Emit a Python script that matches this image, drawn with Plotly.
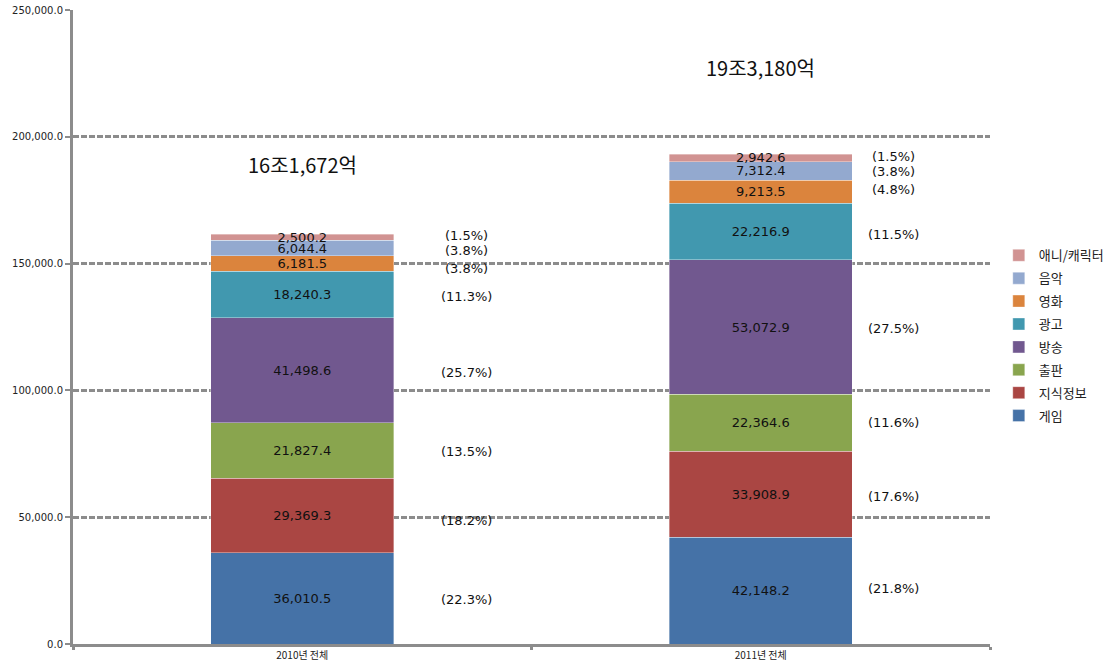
import plotly.graph_objects as go

categories = ["2010년 전체", "2011년 전체"]
series_names = ["게임", "지식정보", "출판", "방송", "광고", "영화", "음악", "애니/캐릭터"]
series_values = {
    "게임": [36010.5, 42148.2],
    "지식정보": [29369.3, 33908.9],
    "출판": [21827.4, 22364.6],
    "방송": [41498.6, 53072.9],
    "광고": [18240.3, 22216.9],
    "영화": [6181.5, 9213.5],
    "음악": [6044.4, 7312.4],
    "애니/캐릭터": [2500.2, 2942.6],
}
series_pct = {
    "게임": ["(22.3%)", "(21.8%)"],
    "지식정보": ["(18.2%)", "(17.6%)"],
    "출판": ["(13.5%)", "(11.6%)"],
    "방송": ["(25.7%)", "(27.5%)"],
    "광고": ["(11.3%)", "(11.5%)"],
    "영화": ["(3.8%)", "(4.8%)"],
    "음악": ["(3.8%)", "(3.8%)"],
    "애니/캐릭터": ["(1.5%)", "(1.5%)"],
}
total_labels = ["16조1,672억", "19조3,180억"]

colors = {
    "게임": "#4572A7",
    "지식정보": "#AA4643",
    "출판": "#89A54E",
    "방송": "#71588F",
    "광고": "#4198AF",
    "영화": "#DB843D",
    "음악": "#93A9CF",
    "애니/캐릭터": "#D19392",
}

# small label nudges (pixels) for the percentage labels, per category
pct_yshift = {
    "게임": [-1, 2],
    "지식정보": [-5, -2],
    "출판": [-1, 0],
    "방송": [-2, -1],
    "광고": [-2, -3],
    "영화": [-5, 2],
    "음악": [-2, -1],
    "애니/캐릭터": [2, 1],
}
pct_xshift = [164, 133]
total_yshift = [70, 87]

FONT = "DejaVu Sans, Noto Sans CJK KR"
KFONT = "Noto Sans CJK KR, DejaVu Sans"

fig = go.Figure()
n = len(series_names)
for i, name in enumerate(series_names):
    vals = series_values[name]
    fig.add_trace(go.Bar(
        name=name, x=categories, y=vals, legendgroup=name,
        legendrank=100 * (n - i),
        marker=dict(color=colors[name], line=dict(color="rgba(255,255,255,0.6)", width=0.6)),
        text=[f"{v:,.1f}" for v in vals],
        textposition="inside", insidetextanchor="middle",
        textfont=dict(family=FONT, size=13, color="#111111"),
        constraintext="none",
        width=0.4,
        hoverinfo="skip",
    ))

for ci, cat in enumerate(categories):
    base = 0.0
    for name in series_names:
        v = series_values[name][ci]
        mid = base + v / 2
        base += v
        fig.add_annotation(
            x=cat, y=mid, text=series_pct[name][ci], showarrow=False,
            xshift=pct_xshift[ci], yshift=pct_yshift[name][ci],
            font=dict(family=FONT, size=13, color="#111111"),
        )
    fig.add_annotation(
        x=cat, y=base, text=total_labels[ci], showarrow=False,
        yshift=total_yshift[ci],
        font=dict(family=KFONT, size=20, color="#111111"),
    )

fig.update_layout(
    barmode="stack",
    width=1111, height=665,
    margin=dict(l=73, r=121, t=10, b=21, autoexpand=False),
    paper_bgcolor="white", plot_bgcolor="white",
    showlegend=True,
    legend=dict(
        xref="container", yref="container",
        x=0.899, y=0.495, xanchor="left", yanchor="middle",
        traceorder="grouped",
        font=dict(family=KFONT, size=13, color="#222222"),
        itemwidth=30, tracegroupgap=3,
        bgcolor="rgba(0,0,0,0)",
    ),
)
fig.update_yaxes(
    range=[0, 250000], dtick=50000, tickformat=",.1f",
    showgrid=True, gridcolor="#8c8c8c", gridwidth=3, griddash="6px,2px",
    showline=True, linecolor="#8c8c8c", linewidth=3,
    ticks="outside", ticklen=5, tickcolor="#8c8c8c", tickwidth=2,
    tickfont=dict(family=FONT, size=10, color="#222222"),
    zeroline=False, automargin=False,
)
fig.update_xaxes(
    showline=True, linecolor="#8c8c8c", linewidth=3,
    ticks="outside", ticklen=3, tickcolor="#8c8c8c", tickwidth=3,
    tickson="boundaries",
    tickfont=dict(family=KFONT, size=10, color="#222222"),
    showgrid=False, automargin=False,
)

fig.write_html("out.html")
